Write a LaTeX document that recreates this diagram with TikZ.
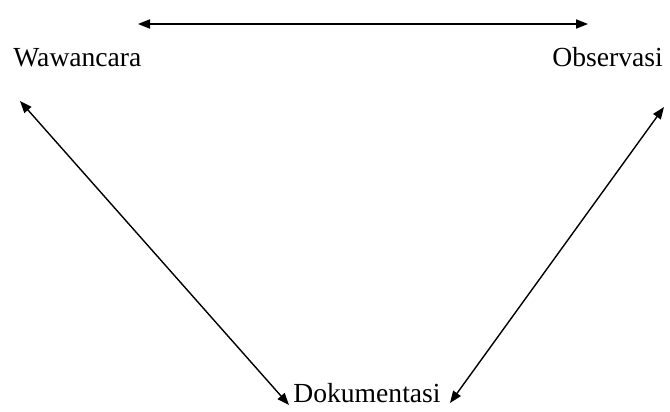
\documentclass[tikz,border=0pt]{standalone}
\usepackage{fontspec}
\setmainfont{Liberation Serif}
\usetikzlibrary{positioning,arrows.meta}

\begin{document}
\begin{tikzpicture}[
      x=0.5pt, y=-0.5pt,
      lbl/.style={anchor=base west, inner sep=0pt, font=\fontsize{13.8}{16}\selectfont},
      arrow/.style={{Triangle[length=6pt,width=4.6pt]}-{Triangle[length=6pt,width=4.6pt]}, line width=0.7pt},
    ]
    \useasboundingbox (0,0) rectangle (670,412);
    \node[lbl] (waw) at (13,66) {Wawancara};
    \node[lbl] (obs) at (552,66) {Observasi};
    \node[lbl] (dok) at (293,402) {Dokumentasi};
    % ujung panah
    \coordinate (wtop) at (138,24);
    \coordinate (otop) at (588,24);
    \coordinate (wbot) at (20,101);
    \coordinate (obot) at (664,107);
    \coordinate (dleft) at (289,405);
    \coordinate (dright) at (450,403);
    \draw[arrow] (wtop) -- (otop);
    \draw[arrow] (wbot) -- (dleft);
    \draw[arrow] (obot) -- (dright);
  \end{tikzpicture}
\end{document}
